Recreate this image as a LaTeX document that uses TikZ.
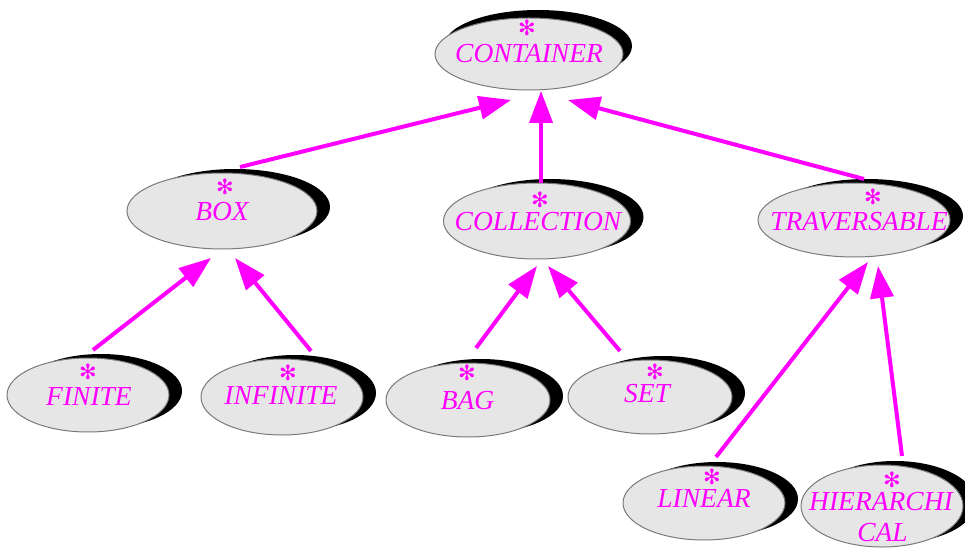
\documentclass[tikz,border=0pt]{standalone}
\usepackage{fontspec}
\setmainfont{Liberation Serif}
\newfontfamily\djv{DejaVu Sans}
\usetikzlibrary{shapes.geometric,arrows.meta,calc}
\definecolor{ellgray}{HTML}{E6E6E6}
\definecolor{edgegray}{HTML}{7A7A7A}
\definecolor{mag}{HTML}{FF00FF}
\tikzset{
  ell/.style={ellipse, draw=edgegray, fill=ellgray, line width=1pt, inner sep=0pt},
  shd/.style={ellipse, fill=black, inner sep=0pt},
  lbl/.style={text=mag, font=\fontsize{27.5}{30}\selectfont\itshape, anchor=base, inner sep=0pt},
  ast/.style={text=mag, font=\djv\fontsize{21}{21}\selectfont, anchor=center, inner sep=0pt},
  inh/.style={draw=mag, line width=4pt, -{Triangle[length=32pt,width=23pt]}},
}
\begin{document}
\begin{tikzpicture}[x=1pt,y=-1pt]
\useasboundingbox[fill=white] (0,0) rectangle (965,548);
% shadows
\node[shd, minimum width=188pt, minimum height=72pt] (container-s) at (538,46) {};
\node[shd, minimum width=190pt, minimum height=76pt] (box-s) at (235,207) {};
\node[shd, minimum width=187pt, minimum height=76pt] (collection-s) at (550,217) {};
\node[shd, minimum width=192pt, minimum height=74pt] (traversable-s) at (867,216) {};
\node[shd, minimum width=162pt, minimum height=74pt] (finite-s) at (101,391) {};
\node[shd, minimum width=162pt, minimum height=76pt] (infinite-s) at (295,393) {};
\node[shd, minimum width=164pt, minimum height=74pt] (bag-s) at (481,396) {};
\node[shd, minimum width=164pt, minimum height=74pt] (set-s) at (663,393) {};
\node[shd, minimum width=162pt, minimum height=74pt] (linear-s) at (717,499) {};
\node[shd, minimum width=162pt, minimum height=82pt] (hier-s) at (895,502) {};
% ellipses
\node[ell, minimum width=188pt, minimum height=72pt] (container) at (529,54) {};
\node[ell, minimum width=190pt, minimum height=76pt] (box) at (222,211) {};
\node[ell, minimum width=187pt, minimum height=76pt] (collection) at (537,221) {};
\node[ell, minimum width=192pt, minimum height=74pt] (traversable) at (854,220) {};
\node[ell, minimum width=162pt, minimum height=74pt] (finite) at (88,395) {};
\node[ell, minimum width=162pt, minimum height=76pt] (infinite) at (282,397) {};
\node[ell, minimum width=164pt, minimum height=74pt] (bag) at (468,400) {};
\node[ell, minimum width=164pt, minimum height=74pt] (set) at (650,397) {};
\node[ell, minimum width=162pt, minimum height=74pt] (linear) at (704,503) {};
\node[ell, minimum width=162pt, minimum height=82pt] (hier) at (882,506) {};
% labels
\node[lbl] (container-t) at (529,63) {CONTAINER};
\node[lbl] (box-t) at (222,220.5) {BOX};
\node[lbl] (collection-t) at (538,230) {COLLECTION};
\node[lbl] (traversable-t) at (859,230) {TRAVERSABLE};
\node[lbl] (finite-t) at (89,405) {FINITE};
\node[lbl] (infinite-t) at (281,404) {INFINITE};
\node[lbl] (bag-t) at (467.5,409) {BAG};
\node[lbl] (set-t) at (647,402) {SET};
\node[lbl] (linear-t) at (704,507) {LINEAR};
\node[lbl] (hier-t1) at (881,510) {HIERARCHI};
\node[lbl] (hier-t2) at (882.5,541) {CAL};
% stars
\node[ast] (container-a) at (527,28) {✻};
\node[ast] (box-a) at (225,187) {✻};
\node[ast] (collection-a) at (540,200) {✻};
\node[ast] (traversable-a) at (873,197) {✻};
\node[ast] (finite-a) at (88,372) {✻};
\node[ast] (infinite-a) at (288,373) {✻};
\node[ast] (bag-a) at (467,373) {✻};
\node[ast] (set-a) at (655,372) {✻};
\node[ast] (linear-a) at (712,477) {✻};
\node[ast] (hier-a) at (892,480) {✻};
% inheritance arrows
\draw[inh] ($(box)+(18,-44)$) -- ($(container)+(-18,46)$);
\draw[inh] ($(collection)+(4,-38)$) -- ($(container)+(12,37)$);
\draw[inh] ($(traversable)+(10,-41)$) -- ($(container)+(39,46)$);
\draw[inh] ($(finite)+(5,-45)$) -- ($(box)+(-11,47)$);
\draw[inh] ($(infinite)+(29,-46)$) -- ($(box)+(13,47)$);
\draw[inh] ($(bag)+(8,-52)$) -- ($(collection)+(0,45)$);
\draw[inh] ($(set)+(-30,-46)$) -- ($(collection)+(11,45)$);
\draw[inh] ($(linear)+(12,-46)$) -- ($(traversable)+(14,42)$);
\draw[inh] ($(hier)+(20,-50)$) -- ($(traversable)+(24,46)$);
\end{tikzpicture}
\end{document}
